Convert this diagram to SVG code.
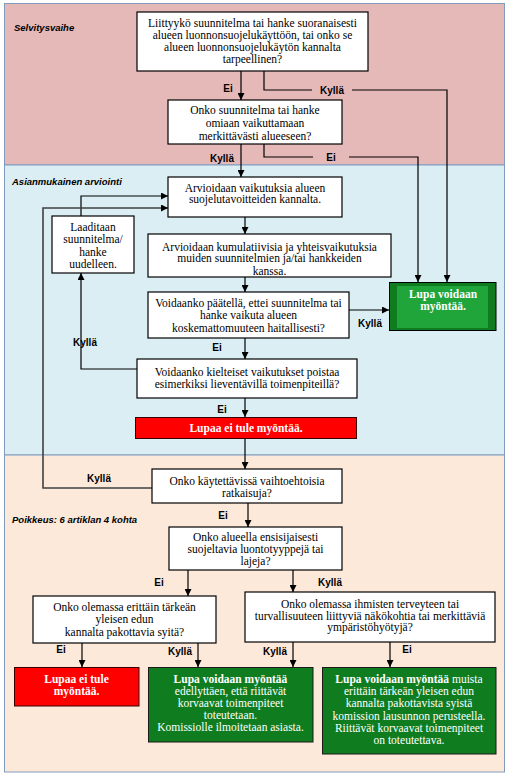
<svg xmlns="http://www.w3.org/2000/svg" width="507" height="776" viewBox="0 0 507 776">
<defs>
<marker id="ah" markerUnits="userSpaceOnUse" markerWidth="7" markerHeight="7" refX="7" refY="3.5" orient="auto">
<path d="M0,0 L7,3.5 L0,7 z" fill="#000"/>
</marker>
<style>
.sec{stroke:#7f9cbf;stroke-width:1}
.box{fill:#fff;stroke:#000;stroke-width:1.2}
.t{font-family:"Liberation Serif","Times New Roman",serif;font-size:11.5px;fill:#000;text-anchor:middle}
.tw{font-family:"Liberation Serif","Times New Roman",serif;font-size:11.5px;fill:#fff;text-anchor:middle}
.b{font-weight:bold}
.lab{font-family:"Liberation Sans",Arial,sans-serif;font-size:10px;font-weight:bold;fill:#000;text-anchor:middle}
.sl{font-family:"Liberation Sans",Arial,sans-serif;font-size:9.5px;font-style:italic;font-weight:bold;fill:#000}
.c{fill:none;stroke:#000;stroke-width:1.2}
.cg{fill:none;stroke:#404040;stroke-width:1.6}
</style>
</defs>
<g id="sections">
<rect class="sec" x="4.5" y="3.5" width="500" height="161.5" fill="#e5b9b8"/>
<rect class="sec" x="4.5" y="165" width="500" height="290" fill="#dbeef4"/>
<rect class="sec" x="4.5" y="455" width="500" height="317" fill="#fde9d9"/>
<text class="sl" x="14" y="31">Selvitysvaihe</text>
<text class="sl" x="12" y="185">Asianmukainen arviointi</text>
<text class="sl" x="12" y="523">Poikkeus: 6 artiklan 4 kohta</text>
</g>
<g id="connectors">
<path class="c" d="M241 71 V100" marker-end="url(#ah)"/>
<path class="c" d="M264 71 V90 H312 M352 90 H447 V282" marker-end="url(#ah)"/>
<path class="c" d="M241 144 V177" marker-end="url(#ah)"/>
<path class="c" d="M264 144 V157 H313 M349 157 H418 V282" marker-end="url(#ah)"/>
<path class="c" d="M245 217 V234" marker-end="url(#ah)"/>
<path class="c" d="M245 277 V292" marker-end="url(#ah)"/>
<path class="c" d="M349 310 H389" marker-end="url(#ah)"/>
<path class="c" d="M245 338 V359" marker-end="url(#ah)"/>
<path class="c" d="M137 369 H81 V273" marker-end="url(#ah)"/>
<path class="c" d="M81 216 V196 H168" marker-end="url(#ah)"/>
<path class="cg" d="M152 488 H43 V208 H168" marker-end="url(#ah)"/>
<path class="c" d="M245 398 V417" marker-end="url(#ah)"/>
<path class="c" d="M245 438 V469" marker-end="url(#ah)"/>
<path class="c" d="M248 503 V527" marker-end="url(#ah)"/>
<path class="c" d="M188 570 V596" marker-end="url(#ah)"/>
<path class="c" d="M293 570 V592" marker-end="url(#ah)"/>
<path class="c" d="M82 643 V667" marker-end="url(#ah)"/>
<path class="c" d="M198 643 V667" marker-end="url(#ah)"/>
<path class="c" d="M293 642 V667" marker-end="url(#ah)"/>
<path class="c" d="M390 642 V667" marker-end="url(#ah)"/>
<text class="lab" x="228" y="91.5">Ei</text>
<text class="lab" x="332" y="93.5">Kyllä</text>
<text class="lab" x="222" y="161.5">Kyllä</text>
<text class="lab" x="331" y="160.5">Ei</text>
<text class="lab" x="370" y="326.5">Kyllä</text>
<text class="lab" x="85" y="346">Kyllä</text>
<text class="lab" x="217" y="350.5">Ei</text>
<text class="lab" x="222" y="412.5">Ei</text>
<text class="lab" x="99" y="481.5">Kyllä</text>
<text class="lab" x="223" y="518.5">Ei</text>
<text class="lab" x="159" y="585.5">Ei</text>
<text class="lab" x="330" y="585.5">Kyllä</text>
<text class="lab" x="61" y="652.5">Ei</text>
<text class="lab" x="180" y="654.5">Kyllä</text>
<text class="lab" x="275" y="654.5">Kyllä</text>
<text class="lab" x="407" y="652.5">Ei</text>
</g>
<g id="boxA">
<rect class="box" x="137" y="12" width="231" height="59"/>
<text class="t" x="252.5" y="26.5">Liittyykö suunnitelma tai hanke suoranaisesti</text>
<text class="t" x="252.5" y="38.5">alueen luonnonsuojelukäyttöön, tai onko se</text>
<text class="t" x="252.5" y="50.5">alueen luonnonsuojelukäytön kannalta</text>
<text class="t" x="252.5" y="62.5">tarpeellinen?</text>
</g>
<g id="boxB">
<rect class="box" x="168" y="100" width="174" height="44"/>
<text class="t" x="255" y="113.5">Onko suunnitelma tai hanke</text>
<text class="t" x="255" y="126.5">omiaan vaikuttamaan</text>
<text class="t" x="255" y="139.5">merkittävästi alueeseen?</text>
</g>
<g id="boxC">
<rect class="box" x="168" y="177" width="174" height="40"/>
<text class="t" x="255" y="191.5">Arvioidaan vaikutuksia alueen</text>
<text class="t" x="255" y="203">suojelutavoitteiden kannalta.</text>
</g>
<g id="boxD">
<rect class="box" x="52" y="216" width="82" height="57"/>
<text class="t" x="93" y="230.5">Laaditaan</text>
<text class="t" x="93" y="243">suunnitelma/</text>
<text class="t" x="93" y="255.5">hanke</text>
<text class="t" x="93" y="268">uudelleen.</text>
</g>
<g id="boxE">
<rect class="box" x="148" y="234" width="243" height="43"/>
<text class="t" x="269.5" y="250.5">Arvioidaan kumulatiivisia ja yhteisvaikutuksia</text>
<text class="t" x="269.5" y="262">muiden suunnitelmien ja/tai hankkeiden</text>
<text class="t" x="269.5" y="274.5">kanssa.</text>
</g>
<g id="boxF">
<rect class="box" x="148" y="292" width="201" height="46"/>
<text class="t" x="248.5" y="306.5">Voidaanko päätellä, ettei suunnitelma tai</text>
<text class="t" x="248.5" y="319">hanke vaikuta alueen</text>
<text class="t" x="248.5" y="331.5">koskemattomuuteen haitallisesti?</text>
</g>
<g id="green1">
<rect x="389.5" y="282.5" width="106.5" height="48" fill="#0f7d1f" stroke="#000" stroke-width="1"/>
<rect x="397" y="286" width="91" height="42" fill="#1fa53a"/>
<text class="tw b" x="443" y="297.5">Lupa voidaan</text>
<text class="tw b" x="443" y="309.5">myöntää.</text>
</g>
<g id="boxG">
<rect class="box" x="137" y="359" width="220" height="39"/>
<text class="t" x="247" y="375.5">Voidaanko kielteiset vaikutukset poistaa</text>
<text class="t" x="247" y="388">esimerkiksi lieventävillä toimenpiteillä?</text>
</g>
<g id="red1">
<rect x="135.5" y="417.5" width="221" height="21" fill="#ff0000" stroke="#3a0000" stroke-width="1"/>
<text class="tw b" x="246" y="432">Lupaa ei tule myöntää.</text>
</g>
<g id="boxH">
<rect class="box" x="152" y="469" width="190" height="34"/>
<text class="t" x="247" y="484.5">Onko käytettävissä vaihtoehtoisia</text>
<text class="t" x="247" y="496.5">ratkaisuja?</text>
</g>
<g id="boxI">
<rect class="box" x="169" y="527" width="173" height="43"/>
<text class="t" x="255.5" y="540.5">Onko alueella ensisijaisesti</text>
<text class="t" x="255.5" y="553">suojeltavia luontotyyppejä tai</text>
<text class="t" x="255.5" y="565">lajeja?</text>
</g>
<g id="boxJ">
<rect class="box" x="33" y="596" width="183" height="47"/>
<text class="t" x="124.5" y="610.5">Onko olemassa erittäin tärkeän</text>
<text class="t" x="124.5" y="623">yleisen edun</text>
<text class="t" x="124.5" y="635.5">kannalta pakottavia syitä?</text>
</g>
<g id="boxK">
<rect class="box" x="245" y="592" width="250" height="50"/>
<text class="t" x="370" y="607.5">Onko olemassa ihmisten terveyteen tai</text>
<text class="t" x="370" y="619.5">turvallisuuteen liittyviä näkökohtia tai merkittäviä</text>
<text class="t" x="370" y="631">ympäristöhyötyjä?</text>
</g>
<g id="red2">
<rect x="14.5" y="667.5" width="124.5" height="38.5" fill="#ff0000" stroke="#3a0000" stroke-width="1"/>
<text class="tw b" x="76.5" y="682.5">Lupaa ei tule</text>
<text class="tw b" x="76.5" y="694.5">myöntää.</text>
</g>
<g id="green2">
<rect x="148.5" y="667.5" width="164.5" height="74.5" fill="#0f7d1f" stroke="#1a1a1a" stroke-width="1"/>
<text class="tw b" x="230.5" y="682.5">Lupa voidaan myöntää</text>
<text class="tw" x="230.5" y="694.5">edellyttäen, että riittävät</text>
<text class="tw" x="230.5" y="706.5">korvaavat toimenpiteet</text>
<text class="tw" x="230.5" y="718.5">toteutetaan.</text>
<text class="tw" x="230.5" y="730.5">Komissiolle ilmoitetaan asiasta.</text>
</g>
<g id="green3">
<rect x="322.5" y="667.5" width="173.5" height="86.5" fill="#0f7d1f" stroke="#1a1a1a" stroke-width="1"/>
<text class="tw" x="409" y="682.5"><tspan class="b">Lupa voidaan myöntää</tspan> muista</text>
<text class="tw" x="409" y="694.5">erittäin tärkeän yleisen edun</text>
<text class="tw" x="409" y="706.5">kannalta pakottavista syistä</text>
<text class="tw" x="409" y="719.5">komission lausunnon perusteella.</text>
<text class="tw" x="409" y="731.5">Riittävät korvaavat toimenpiteet</text>
<text class="tw" x="409" y="743.5">on toteutettava.</text>
</g>
</svg>
